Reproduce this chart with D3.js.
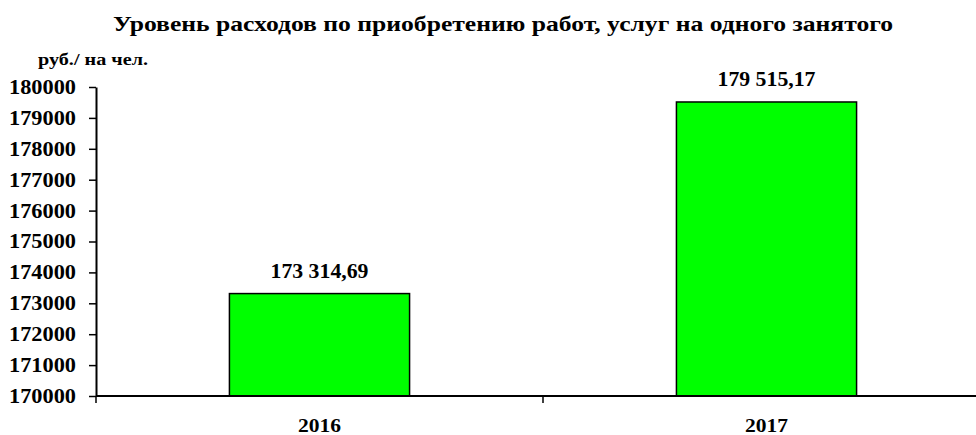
<!DOCTYPE html>
<html>
<head>
<meta charset="utf-8">
<script src="https://cdn.jsdelivr.net/npm/d3@7"></script>
<style>
  html, body { margin: 0; padding: 0; background: #fff; overflow: hidden; }
  svg text { font-family: "Liberation Serif", "Times New Roman", serif !important; font-weight: bold; fill: #000; }
</style>
</head>
<body>
<svg id="chart" width="976" height="435"></svg>
<script>
const years = ["2016", "2017"];
const values = [173314.69, 179515.17];
const valueLabels = ["173 314,69", "179 515,17"];
const yTicks = [170000, 171000, 172000, 173000, 174000, 175000, 176000, 177000, 178000, 179000, 180000];
const title = "Уровень расходов по приобретению работ, услуг на одного занятого";
const unitLabel = "руб./ на чел.";

const svg = d3.select("#chart");
const plotLeft = 96, plotRight = 990, plotTop = 87, plotBottom = 396;

const x = d3.scaleBand().domain(years).range([plotLeft, plotRight]).padding(0);
const y = d3.scaleLinear().domain([170000, 180000]).range([plotBottom, plotTop]);
const barW = x.bandwidth() * 0.403;

// Bars
svg.append("g").selectAll("rect").data(years).join("rect")
  .attr("x", (d) => x(d) + x.bandwidth() / 2 - barW / 2)
  .attr("y", (d, i) => y(values[i]))
  .attr("width", barW)
  .attr("height", (d, i) => y(170000) - y(values[i]))
  .attr("fill", "#00ff00")
  .attr("stroke", "#000")
  .attr("stroke-width", 1.5);

// Value labels
svg.append("g").selectAll("text").data(years).join("text")
  .attr("x", (d) => x(d) + x.bandwidth() / 2)
  .attr("y", (d, i) => y(values[i]) - 16)
  .attr("text-anchor", "middle")
  .style("font-size", "20px")
  .attr("textLength", 98).attr("lengthAdjust", "spacingAndGlyphs")
  .text((d, i) => valueLabels[i]);

// Y axis
const yAxis = svg.append("g")
  .attr("transform", `translate(${plotLeft},0)`)
  .call(d3.axisLeft(y).tickValues(yTicks).tickFormat(d3.format("d")).tickSize(7).tickSizeOuter(0).tickPadding(13));
yAxis.select(".domain").attr("stroke", "#000").attr("stroke-width", 2);
yAxis.selectAll(".tick line").attr("stroke", "#000").attr("stroke-width", 1.5);
yAxis.selectAll("text").style("font-size", "20px")
  .attr("textLength", 67).attr("lengthAdjust", "spacingAndGlyphs");

// X axis: ticks at category boundaries
const xAxis = svg.append("g").attr("transform", `translate(0,${plotBottom})`);
xAxis.append("line").attr("x1", plotLeft).attr("x2", plotRight).attr("stroke", "#000").attr("stroke-width", 2);
const bounds = [x(years[0]), x(years[1]), x(years[1]) + x.bandwidth()];
xAxis.selectAll("line.tk").data(bounds).join("line").attr("class", "tk")
  .attr("x1", (d) => d).attr("x2", (d) => d).attr("y1", 0).attr("y2", 7)
  .attr("stroke", "#000").attr("stroke-width", 1.5);
xAxis.selectAll("text").data(years).join("text")
  .attr("x", (d) => x(d) + x.bandwidth() / 2)
  .attr("y", 36)
  .attr("text-anchor", "middle")
  .style("font-size", "19px")
  .attr("textLength", 43).attr("lengthAdjust", "spacingAndGlyphs")
  .text((d) => d);

// Title and unit
svg.append("text").attr("x", 503).attr("y", 31).attr("text-anchor", "middle")
  .style("font-size", "21px").attr("textLength", 780).attr("lengthAdjust", "spacingAndGlyphs")
  .text(title);
svg.append("text").attr("x", 38).attr("y", 65).style("font-size", "16px")
  .attr("textLength", 110).attr("lengthAdjust", "spacingAndGlyphs")
  .text(unitLabel);
</script>
</body>
</html>
